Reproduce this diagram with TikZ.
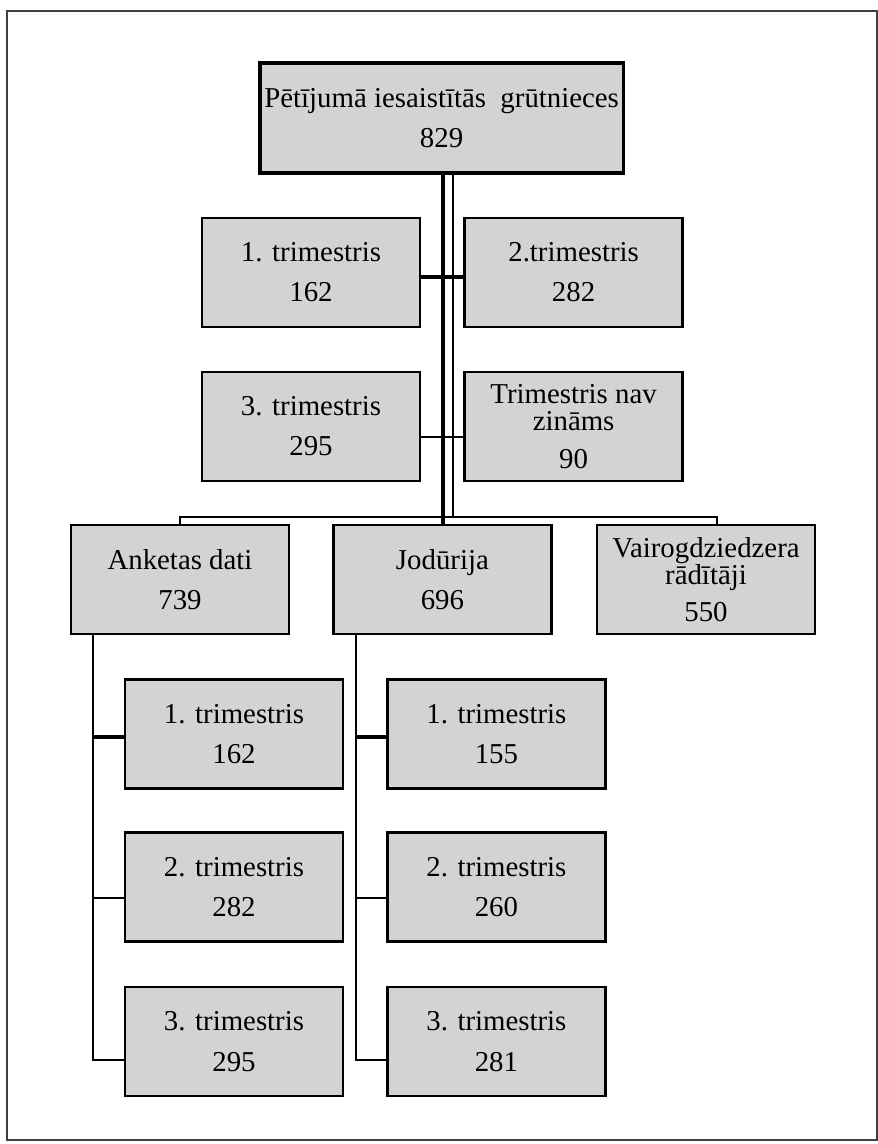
\documentclass[tikz,border=0pt]{standalone}
\usepackage{fontspec}
\setmainfont{Liberation Serif}
\usepackage{tikz}
\usetikzlibrary{positioning}
\definecolor{boxgray}{RGB}{211,211,211}

\begin{document}
\begin{tikzpicture}[
    box/.style={draw, fill=boxgray, line width=1.6pt, minimum width=5.45cm, minimum height=2.72cm,
      inner sep=2pt, align=center, font=\fontsize{20.5}{19.5}\selectfont},
    conn/.style={line width=1.3pt},
    connb/.style={line width=2.2pt}]
    \useasboundingbox (0,0) rectangle (21.95,-28.6);
    \draw[black!75, line width=1.2pt] (0.175,-0.275) rectangle (21.925,-28.5);

    % top
    \node[box, line width=2.4pt, minimum width=9.08cm, minimum height=2.75cm] (top) at (11.04,-2.95)
      {Pētījumā iesaistītās\ \ grūtnieces\\[9pt]829};

    % trimesters
    \node[box] (tri1) at (7.775,-6.81) {1. trimestris\\[9pt]162};
    \node[box] (tri2) at (14.34,-6.81) {2.trimestris\\[9pt]282};
    \node[box] (tri3) at (7.775,-10.66) {3. trimestris\\[9pt]295};
    \node[box] (trinz) at (14.34,-10.66) {Trimestris nav\\zināms\\[7pt]90};

    % data groups
    \node[box] (anketas) at (4.5,-14.49) {Anketas dati\\[9pt]739};
    \node[box] (jod) at (11.06,-14.49) {Jodūrija\\[9pt]696};
    \node[box] (vair) at (17.65,-14.49) {Vairogdziedzera\\rādītāji\\[7pt]550};

    \node[box] (ank1) at (5.85,-18.35) {1. trimestris\\[9pt]162};
    \node[box] (ank2) at (5.85,-22.175) {2. trimestris\\[9pt]282};
    \node[box] (ank3) at (5.85,-26.04) {3. trimestris\\[9pt]295};
    \node[box] (jod1) at (12.41,-18.35) {1. trimestris\\[9pt]155};
    \node[box] (jod2) at (12.41,-22.175) {2. trimestris\\[9pt]260};
    \node[box] (jod3) at (12.41,-26.04) {3. trimestris\\[9pt]281};

    % connectors
    \coordinate (thick) at (11.075,0);
    \coordinate (thin) at (11.325,0);
    \coordinate (bus) at (0,-12.925);
    \coordinate (vx) at (17.925,0);
    \coordinate (r1) at (0,-6.925);
    \coordinate (r2) at (0,-10.925);
    \draw[line width=2.8pt] (thick |- top.south) -- (thick |- jod.north);
    \draw[conn] (thin |- top.south) -- (thin |- bus);
    \draw[conn] (anketas.north) -- (anketas.north |- bus) -- (vx |- bus) -- (vx |- vair.north);
    \draw[connb] (tri1.east |- r1) -- (tri2.west |- r1);
    \draw[conn] (tri3.east |- r2) -- (trinz.west |- r2);

    \coordinate (ax) at (2.325,0);
    \coordinate (jx) at (8.9,0);
    \coordinate (c1) at (0,-18.425);
    \coordinate (c2) at (0,-22.45);
    \coordinate (c3) at (0,-26.5);
    \draw[conn] (ax |- anketas.south) -- (ax |- c3) -- (ank3.west |- c3);
    \draw[connb] (ax |- c1) -- (ank1.west |- c1);
    \draw[conn] (ax |- c2) -- (ank2.west |- c2);
    \draw[conn] (jx |- jod.south) -- (jx |- c3) -- (jod3.west |- c3);
    \draw[connb] (jx |- c1) -- (jod1.west |- c1);
    \draw[conn] (jx |- c2) -- (jod2.west |- c2);
\end{tikzpicture}
\end{document}
